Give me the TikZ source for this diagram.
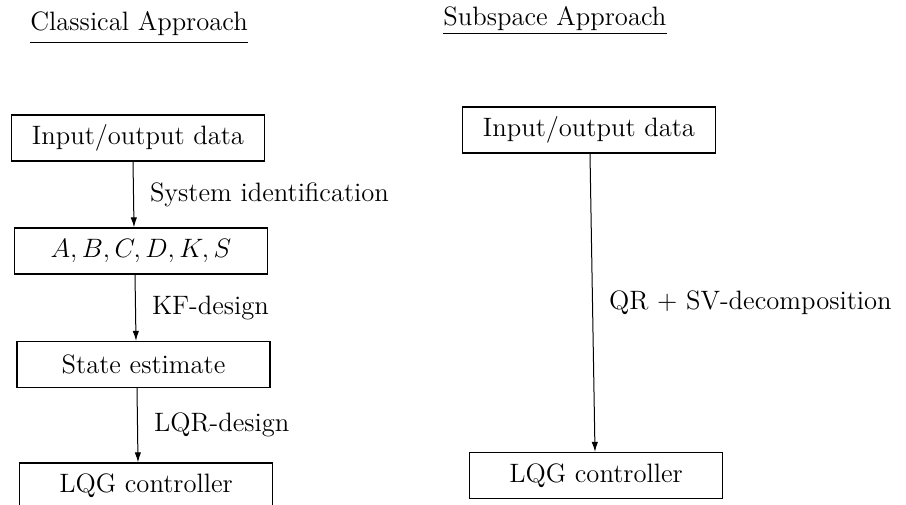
\RequirePackage{fix-cm}
\documentclass[tikz,border=0pt]{standalone}
\usepackage{fontspec}
\usetikzlibrary{arrows.meta,calc}
\begin{document}
\begin{tikzpicture}[x=0.5pt,y=-0.5pt,
  every node/.style={font=\fontsize{13.3}{16}\selectfont},
  stagebox/.style={draw,line width=0.6pt,minimum width=126.5pt,minimum height=23pt,inner sep=0pt},
  flow/.style={line width=0.5pt,-{Latex[length=5pt,width=3.2pt]}},
  steplabel/.style={anchor=west,inner sep=0pt,xshift=8pt},
  titletext/.style={anchor=base west,inner xsep=0pt}]
\useasboundingbox (0,0) rectangle (906,504);
\clip (0,0) rectangle (906,504);
% titles
\node[titletext,inner ysep=3.4pt] (t1) at (30,30) {Classical Approach};
\draw[line width=0.6pt] (t1.south west) -- (t1.south east);
\node[titletext,inner ysep=1.4pt] (t2) at (443,25) {Subspace Approach};
\draw[line width=0.6pt] (t2.south west) -- (t2.south east);
% classical column
\node[stagebox] (b1) at (138,138) {Input/output data};
\node[stagebox] (b2) at (141,251) {$A, B, C, D, K, S$};
\node[stagebox] (b3) at (143.5,364.5) {State estimate};
\node[stagebox] (b4) at (146,486) {LQG controller};
\draw[flow] ([xshift=-2.5pt]b1.south) -- node[steplabel] {System identification} ([xshift=-3.5pt]b2.north);
\draw[flow] ([xshift=-3pt]b2.south) -- node[steplabel] {KF-design} ([xshift=-3.75pt]b3.north);
\draw[flow] ([xshift=-3.25pt]b3.south) -- node[steplabel] {LQR-design} ([xshift=-4pt]b4.north);
% subspace column
\node[stagebox] (r1) at (589,130) {Input/output data};
\node[stagebox] (r2) at (596,475.5) {LQG controller};
\draw[flow] ([xshift=0.5pt]r1.south) -- node[steplabel] {QR + SV-decomposition} ([xshift=-0.5pt]r2.north);
\end{tikzpicture}
\end{document}
